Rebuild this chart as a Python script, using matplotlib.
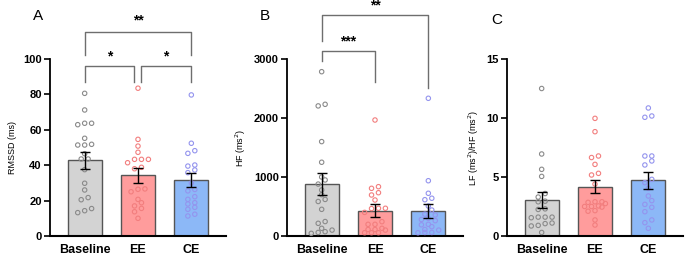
import numpy as np
import matplotlib
matplotlib.use('Agg')
import matplotlib.pyplot as plt

plt.rcParams['font.family'] = ['Liberation Sans', 'DejaVu Sans']

groups = ['Baseline', 'EE', 'CE']

# ---- panel A: RMSSD (ms) ----
rmssd_mean = [42.7, 34.4, 31.6]
rmssd_sem = [4.7, 4.2, 4.0]
rmssd_pts = [
    [80.6, 71.2, 63.7, 62.9, 63.7, 55.2, 51.4, 51.4, 51.8, 46.5, 43.5, 43.5,
     37.5, 29.8, 26.0, 21.7, 20.5, 15.5, 14.3, 13.2],
    [83.5, 54.6, 50.8, 47.3, 43.3, 43.3, 43.3, 41.4, 38.8, 38.0, 26.4, 25.0,
     26.6, 20.7, 18.8, 17.0, 15.6, 13.7, 10.0],
    [79.7, 52.4, 48.2, 46.7, 40.1, 39.5, 37.3, 35.8, 30.0, 26.3, 25.5, 22.2,
     20.7, 18.8, 18.1, 16.2, 15.1, 12.3, 11.3],
]

# ---- panel B: HF (ms^2) ----
hf_mean = [881, 429, 424]
hf_sem = [185, 107, 113]
hf_pts = [
    [2785, 2232, 2205, 1600, 1250, 1000, 950, 880, 780, 700, 620, 585, 452,
     245, 215, 130, 100, 73, 60, 45],
    [1966, 836, 808, 734, 695, 610, 470, 465, 470, 400, 243, 198, 198, 130,
     110, 110, 100, 56, 56, 56],
    [2334, 937, 724, 640, 615, 508, 440, 370, 356, 300, 280, 260, 198, 190,
     158, 110, 100, 60, 60, 55],
]

# ---- panel C: LF/HF ----
lfhf_mean = [3.05, 4.18, 4.72]
lfhf_sem = [0.66, 0.57, 0.72]
lfhf_pts = [
    [12.5, 6.95, 5.65, 5.05, 3.6, 3.3, 2.9, 2.95, 2.3, 2.25, 1.6, 1.6, 1.6,
     1.55, 1.1, 1.05, 0.9, 0.85, 0.3],
    [9.97, 8.84, 6.65, 6.78, 6.07, 5.17, 5.31, 4.4, 2.9, 2.85, 2.9, 2.75, 2.5,
     2.5, 2.45, 2.55, 2.15, 2.1, 1.36, 0.93],
    [10.85, 10.17, 10.06, 6.78, 6.78, 6.36, 6.02, 4.8, 4.52, 4.04, 3.39, 3.0,
     2.68, 2.43, 2.06, 1.36, 1.13, 0.65],
]

bar_fc = ['#d3d3d3', '#ff9c9c', '#8cb8f7']
pt_c = ['#8a8a8a', '#f27e7e', '#9494ee']

W, H = 685, 258
fig = plt.figure(figsize=(W/100, H/100), dpi=100)


def swarm(vals, ylim, ax_h_px, step=0.13, thr_px=4.6, maxn=4):
    # spread near-equal values sideways (groups anchored on first member)
    vals = np.asarray(vals, float)
    order = np.argsort(vals)
    px = vals / ylim * ax_h_px
    offs = np.zeros(len(vals))
    groups_ = []
    for i in order:
        if groups_ and px[i] - px[groups_[-1][0]] < thr_px and len(groups_[-1]) < maxn:
            groups_[-1].append(i)
        else:
            groups_.append([i])
    for g in groups_:
        n = len(g)
        for k, j in enumerate(g):
            offs[j] = (k - (n-1)/2) * step
    return offs


def panel(left, means, sems, pts, ymax, yticks, ylabel, letter, lx, ly):
    ax = fig.add_axes([left/W, 22/H, 176/W, 177/H])
    x = np.arange(3)
    ax.bar(x, means, width=0.64, color=bar_fc, edgecolor='#555555', lw=1, zorder=1)
    for i in range(3):
        offs = swarm(pts[i], ymax, 177)
        ax.scatter(i + offs, pts[i], s=10, facecolors='none', edgecolors=pt_c[i],
                   linewidths=0.8, zorder=3, clip_on=False)
    ax.errorbar(x, means, yerr=sems, fmt='none', ecolor='black', elinewidth=1,
                capsize=3.4, capthick=1, zorder=4)
    ax.set_xlim(-0.65, 2.65)
    ax.set_ylim(0, ymax)
    ax.set_yticks(yticks)
    ax.set_xticks(x)
    ax.set_xticklabels(groups, fontsize=9, fontweight='bold')
    ax.tick_params(axis='x', length=0, pad=6)
    ax.tick_params(axis='y', length=4, width=1.2, labelsize=8, pad=2)
    for t in ax.get_yticklabels():
        t.set_fontweight('bold')
    ax.spines['top'].set_visible(False)
    ax.spines['right'].set_visible(False)
    ax.spines['left'].set_linewidth(1.3)
    ax.spines['bottom'].set_linewidth(1.5)
    ax.set_ylabel(ylabel, fontsize=6.5, labelpad=4)
    fig.text(lx/W, 1 - ly/H, letter, fontsize=11, ha='center', va='center')
    return ax


def bracket(ax, x0, x1, y, y0, y1, label, ly):
    ax.plot([x0, x0, x1, x1], [y0, y, y, y1], color='#6e6e6e', lw=1,
            clip_on=False, zorder=2)
    ax.text((x0 + x1)/2, ly, label, ha='center', va='center', fontsize=10,
            fontweight='bold', clip_on=False)


axA = panel(50, rmssd_mean, rmssd_sem, rmssd_pts, 100, [0, 20, 40, 60, 80, 100],
            'RMSSD (ms)', 'A', 38, 16)
bracket(axA, 0, 2, 115, 102, 102, '**', 121.5)
bracket(axA, 0, 0.93, 96, 87, 87, '*', 101.5)
bracket(axA, 1.05, 2, 96, 87, 87, '*', 101.5)

axB = panel(287, hf_mean, hf_sem, hf_pts, 3000, [0, 1000, 2000, 3000],
            'HF (ms$^2$)', 'B', 265, 16)
bracket(axB, 0, 2, 3746, 3305, 2508, '**', 3905)
bracket(axB, 0, 1, 3136, 2966, 2615, '***', 3300)

axC = panel(507, lfhf_mean, lfhf_sem, lfhf_pts, 15, [0, 5, 10, 15],
            'LF (ms$^2$)/HF (ms$^2$)', 'C', 497, 20)

fig.savefig('out.png', dpi=100)
